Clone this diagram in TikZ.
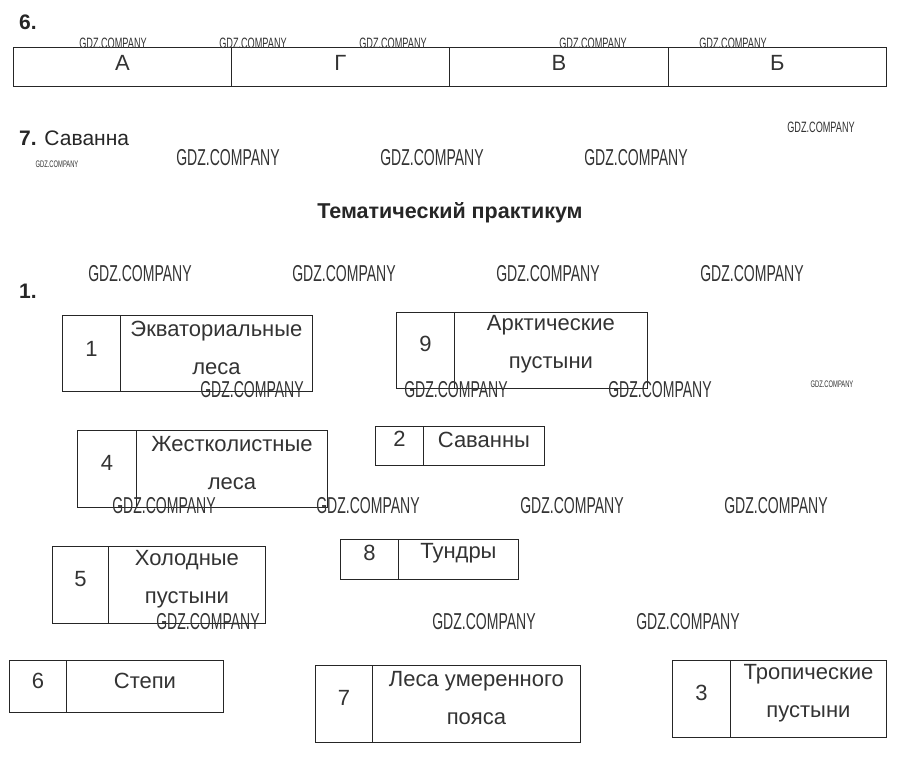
\documentclass[tikz,border=0pt]{standalone}
\usepackage{fontspec}
\setmainfont{Liberation Sans}
\usepackage{graphicx}
\newcommand{\wmark}[1]{\scalebox{0.61}[1]{\fontsize{#1}{#1}\selectfont GDZ.COMPANY}}
\tikzset{
  cell/.style={draw=black!85, line width=0.9pt, anchor=north west, inner sep=0pt},
  txt/.style={font=\fontsize{22}{38}\selectfont, text=black!80, align=center, inner sep=0pt},
  hdr/.style={font=\bfseries\fontsize{21}{24}\selectfont, text=black!85, anchor=west, inner sep=0pt},
  wm/.style={text=black!80, inner sep=0pt}
}
\begin{document}
\begin{tikzpicture}[x=1pt,y=-1pt]
\fill[white] (0,0) rectangle (903,761);
\useasboundingbox (0,0) rectangle (903,761);
% --- task 6 ---
\node[hdr] (h6) at (19,22) {6.};
\node[cell, minimum width=218, minimum height=39] (c1) at (13,47) {};
\node[cell, minimum width=218, minimum height=39] (c2) at (231,47) {};
\node[cell, minimum width=219, minimum height=39] (c3) at (449,47) {};
\node[cell, minimum width=218, minimum height=39] (c4) at (668,47) {};
\node[txt] (l1) at ([yshift=4pt]c1.center) {А};
\node[txt] (l2) at ([yshift=4pt]c2.center) {Г};
\node[txt] (l3) at ([yshift=4pt]c3.center) {В};
\node[txt] (l4) at ([yshift=4pt]c4.center) {Б};
% --- task 7 ---
\node[hdr] (h7) at (19,138) {7. \mdseries Саванна};
\node[font=\bfseries\fontsize{21.5}{24}\selectfont, text=black!85, inner sep=0pt] (title) at (450,213) {Тематический практикум};
\node[hdr] (h1) at (19,291) {1.};
% --- boxes ---
% 1
\node[cell, minimum width=58, minimum height=76] (n1) at (62,315) {};
\node[cell, minimum width=192, minimum height=76] (t1) at (120,315) {};
\node[txt] at ([yshift=5pt]n1.center) {1};
\node[txt] at ([yshift=6pt]t1.center) {Экваториальные\\леса};
% 9
\node[cell, minimum width=58, minimum height=76] (n9) at (396,312) {};
\node[cell, minimum width=193, minimum height=76] (t9) at (454,312) {};
\node[txt] at ([yshift=7pt]n9.center) {9};
\node[txt] at ([yshift=6pt]t9.center) {Арктические\\пустыни};
% 2
\node[cell, minimum width=48, minimum height=39] (n2) at (375,426) {};
\node[cell, minimum width=121, minimum height=39] (t2) at (423,426) {};
\node[txt] at ([yshift=7pt]n2.center) {2};
\node[txt] at ([yshift=6pt]t2.center) {Саванны};
% 4
\node[cell, minimum width=59, minimum height=77] (n4) at (77,430) {};
\node[cell, minimum width=191, minimum height=77] (t4) at (136,430) {};
\node[txt] at ([yshift=6pt]n4.center) {4};
\node[txt] at ([yshift=6pt]t4.center) {Жестколистные\\леса};
% 5
\node[cell, minimum width=56, minimum height=77] (n5) at (52,546) {};
\node[cell, minimum width=157, minimum height=77] (t5) at (108,546) {};
\node[txt] at ([yshift=6pt]n5.center) {5};
\node[txt] at ([yshift=6pt]t5.center) {Холодные\\пустыни};
% 8
\node[cell, minimum width=58, minimum height=40] (n8) at (340,539) {};
\node[cell, minimum width=120, minimum height=40] (t8) at (398,539) {};
\node[txt] at ([yshift=7pt]n8.center) {8};
\node[txt] at ([yshift=6pt]t8.center) {Тундры};
% 6
\node[cell, minimum width=57, minimum height=52] (n6) at (9,660) {};
\node[cell, minimum width=157, minimum height=52] (t6) at (66,660) {};
\node[txt] at ([yshift=6pt]n6.center) {6};
\node[txt] at ([yshift=6pt]t6.center) {Степи};
% 7
\node[cell, minimum width=57, minimum height=77] (n7) at (315,665) {};
\node[cell, minimum width=208, minimum height=77] (t7) at (372,665) {};
\node[txt] at ([yshift=6pt]n7.center) {7};
\node[txt] at ([yshift=6pt]t7.center) {Леса умеренного\\пояса};
% 3
\node[cell, minimum width=58, minimum height=77] (n3) at (672,660) {};
\node[cell, minimum width=156, minimum height=77] (t3) at (730,660) {};
\node[txt] at ([yshift=6pt]n3.center) {3};
\node[txt] at ([yshift=6pt]t3.center) {Тропические\\пустыни};
% --- watermarks ---
\foreach \x/\y [count=\i] in {113/43,253/43,393/43,593/43,733/43,821/127}
  \node[wm] (ws\i) at (\x,\y) {\wmark{15}};
\node[wm] (wt1) at (57,164) {\wmark{9.5}};
\node[wm] (wt2) at (832,384) {\wmark{9.5}};
\foreach \x/\y [count=\i] in {228/158,432/158,636/158,
  140/274,344/274,548/274,752/274,
  252/390,456/390,660/390,
  164/506,368/506,572/506,776/506,
  208/622,484/622,688/622}
  \node[wm] (wb\i) at (\x,\y) {\wmark{23}};
\end{tikzpicture}
\end{document}
